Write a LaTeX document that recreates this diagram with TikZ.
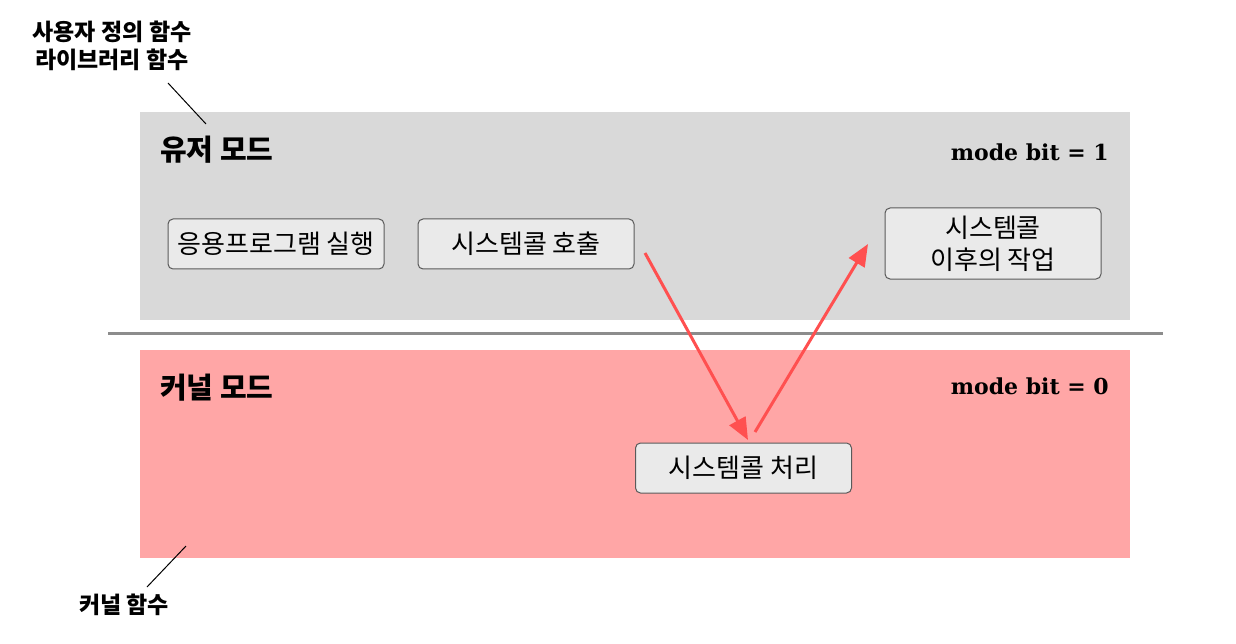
\documentclass[tikz,border=0pt]{standalone}
\usepackage{fontspec}
\setmainfont{Noto Sans CJK KR}
\newfontfamily\slab{DejaVu Serif}
\usetikzlibrary{arrows.meta}
\definecolor{usergray}{HTML}{D9D9D9}
\definecolor{kernpink}{HTML}{FFA6A6}
\definecolor{boxfill}{HTML}{EAEAEA}
\definecolor{boxline}{HTML}{5A5A5A}
\definecolor{arrred}{HTML}{FF5050}
\definecolor{sepgray}{HTML}{8C8C8C}
\tikzset{
  procbox/.style={draw=boxline, line width=1pt, fill=boxfill, rounded corners=5pt,
    minimum width=216pt, minimum height=50pt, inner sep=0pt, align=center,
    font=\fontsize{26}{32}\selectfont},
  modetitle/.style={anchor=west, inner sep=0pt, font=\fontsize{29}{34}\selectfont\bfseries},
  modebit/.style={anchor=east, inner sep=0pt, font=\fontsize{22}{26}\slab\bfseries},
  note/.style={inner sep=0pt, align=center, font=\fontsize{23}{28}\selectfont\bfseries},
  leader/.style={draw=black, line width=1pt},
  callarrow/.style={draw=arrred, line width=3pt, -{Triangle[length=22pt,width=18pt]}}
}
\begin{document}
\begin{tikzpicture}[x=1pt,y=-1pt]
\useasboundingbox (0,0) rectangle (1236,644);
\fill[usergray] (140,112) rectangle (1130,320);
\fill[kernpink] (140,350) rectangle (1130,558);
\draw[sepgray, line width=3pt] (108,333) -- (1163,333);

\node[modetitle] (user) at (160,150) {유저 모드};
\node[modetitle] (kern) at (160,388) {커널 모드};
\node[modebit] (bit1) at (1109,152.5) {mode bit = 1};
\node[modebit] (bit0) at (1109,386.5) {mode bit = 0};

\node[procbox] (app) at (276,244) {응용프로그램 실행};
\node[procbox] (call) at (526,244) {시스템콜 호출};
\node[procbox, minimum height=71pt] (after) at (993,243.5) {시스템콜\\이후의 작업};
\node[procbox] (handle) at (743.5,468) {시스템콜 처리};

\node[note] (ulib) at (112,46) {사용자 정의 함수\\라이브러리 함수};
\node[note] (kfun) at (124,605) {커널 함수};

\coordinate (c1s) at (645,253);
\coordinate (c1e) at (748,440);
\coordinate (c2s) at (755,432);
\coordinate (c2e) at (868,244);
\coordinate (l1s) at (168,83);
\coordinate (l1e) at (206,124);
\coordinate (l2s) at (147,587);
\coordinate (l2e) at (186,546);

\draw[callarrow] (c1s) -- (c1e);
\draw[callarrow] (c2s) -- (c2e);
\draw[leader] (l1s) -- (l1e);
\draw[leader] (l2s) -- (l2e);
\end{tikzpicture}
\end{document}
